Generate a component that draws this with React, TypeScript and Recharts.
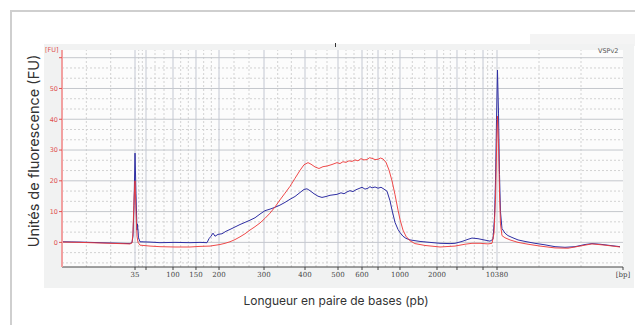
import { LineChart, Line, XAxis, YAxis, ReferenceLine } from 'recharts';

// migration time (s) of each ladder peak and its size label
const ladderTimes = [52.17, 54.0, 58.5, 62.33, 66.17, 73.67, 80.5, 86.0, 90.0, 92.67, 96.33, 102.5, 105.83, 110.17, 112.5];
const ladderLabels = ['35', '', '100', '150', '200', '300', '400', '500', '600', '', '1000', '2000', '', '', '10380'];

const X_MIN = 40;
const X_MAX = 133.5;
const Y_MIN = -8;
const Y_MAX = 62.5;
const fuTicks = [0, 10, 20, 30, 40, 50, 60];

// sample 1 (blue)
const blueTime = [
  40.0, 43.0, 46.33, 49.67, 51.33, 51.67, 51.83, 52.0, 52.17, 52.33, 52.5, 52.58, 52.75, 53.0, 54.67, 56.33, 58.83, 61.33, 63.0,
  64.17, 64.5, 64.83, 65.17, 65.5, 66.0, 66.67, 67.33, 68.0, 68.83, 69.67, 70.5, 71.33, 72.17, 73.0, 73.83, 74.67, 75.5, 76.33,
  77.17, 78.0, 78.83, 79.67, 80.33, 80.83, 81.33, 82.0, 82.67, 83.33, 84.0, 84.67, 85.83, 86.5, 87.0, 87.5, 88.0, 88.5, 89.0,
  89.5, 90.0, 90.5, 91.0, 91.33, 91.67, 92.17, 92.67, 93.17, 93.67, 94.17, 94.67, 95.0, 95.5, 96.0, 96.33, 96.83, 97.33, 98.0,
  99.67, 101.33, 103.0, 104.67, 105.5, 106.67, 107.67, 108.33, 109.33, 110.33, 111.33, 111.83, 112.08, 112.25, 112.42, 112.58,
  112.75, 112.92, 113.08, 113.33, 113.83, 114.33, 115.0, 116.0, 117.17, 118.83, 120.5, 122.17, 123.83, 125.5, 127.17, 128.33,
  129.67, 131.33, 133.0,
];
const blueFU = [
  0.2, 0.1, -0.1, -0.3, -0.4, 0.0, 2, 12, 29, 16, 4, 6, 1.5, 0.2, 0.1, -0.1, 0, -0.1, 0,
  -0.1, 1.2, 2.0, 3.0, 2.0, 2.6, 2.8, 3.6, 4.2, 5.0, 5.8, 6.5, 7.2, 8.0, 9.2, 10.3, 10.8, 11.4, 12.1,
  13.0, 14.0, 14.9, 16.2, 17.2, 17.4, 16.8, 15.8, 15.0, 14.6, 14.9, 15.3, 15.6, 16.1, 15.8, 16.4, 16.8, 16.5, 17.1,
  17.5, 17.9, 17.3, 17.6, 18.1, 17.7, 18.0, 17.6, 17.9, 17.3, 16.6, 13.5, 10.5, 6.5, 4.2, 3.2, 2.0, 1.3, 0.8,
  0.3, 0.0, -0.3, -0.4, -0.3, 0.3, 1.0, 1.4, 1.2, 0.8, 0.4, 1.0, 8, 20, 40, 56,
  42, 22, 10, 4.5, 3.0, 2.2, 1.6, 0.8, 0.3, -0.3, -0.8, -1.4, -1.6, -1.4, -0.7, -0.4,
  -0.6, -1.0, -1.4,
];

// sample 2 (red)
const redTime = [
  40.0, 43.0, 46.33, 49.67, 51.33, 51.67, 51.83, 52.0, 52.17, 52.33, 52.5, 52.67, 53.0, 54.67, 56.33, 58.83, 61.33, 63.0, 64.67,
  66.33, 67.17, 68.0, 68.83, 69.67, 70.5, 71.33, 72.17, 73.0, 73.83, 74.67, 75.5, 76.33, 77.17, 78.0, 78.83, 79.67, 80.33, 81.0,
  81.5, 82.17, 82.83, 83.5, 84.17, 85.0, 85.83, 86.33, 86.83, 87.33, 87.83, 88.33, 88.83, 89.33, 89.83, 90.33, 90.83, 91.25,
  91.67, 92.17, 92.67, 93.08, 93.5, 94.0, 94.5, 95.0, 95.5, 96.0, 96.33, 96.83, 97.33, 98.0, 98.83, 100.5, 103.0, 105.5, 107.17,
  108.33, 109.67, 111.0, 111.67, 112.0, 112.25, 112.42, 112.58, 112.75, 112.92, 113.08, 113.33, 113.83, 114.67, 116.0, 117.67,
  119.67, 122.17, 124.33, 126.33, 128.33, 130.5, 133.0,
];
const redFU = [
  0.1, 0, -0.2, -0.4, -0.5, -0.2, 3, 14, 20, 10, 2, 0, -0.9, -1.2, -1.4, -1.5, -1.5, -1.3, -1.2,
  -0.7, -0.3, 0.2, 0.9, 1.8, 2.8, 4.0, 5.1, 6.3, 7.8, 9.5, 11.5, 13.8, 16.0, 18.2, 20.8, 23.4, 25.2, 25.9,
  25.4, 24.5, 24.0, 24.6, 24.8, 25.3, 25.9, 25.6, 26.2, 26.0, 26.5, 26.3, 26.8, 26.5, 27.2, 26.8, 26.9, 27.5,
  27.3, 26.9, 27.0, 27.4, 27.1, 26.0, 23.5, 20.0, 15.5, 10.5, 7.5, 4.0, 2.0, 0.5, -0.4, -1.0, -1.5, -1.2, -0.6,
  -0.3, -0.3, -0.5, -0.3, 3, 14, 30, 41, 32, 16, 6, 2.2, 1.5, 0.8, 0.0, -0.6,
  -1.2, -1.8, -1.9, -1.2, -0.5, -0.9, -1.5,
];

const blueData = blueTime.map((t, i) => ({ t, fu: blueFU[i] }));
const redData = redTime.map((t, i) => ({ t, fu: redFU[i] }));

// solid grid at ladder peaks, dotted grid at thirds in between
const xBounds = [X_MIN, ...ladderTimes, X_MAX];
const xDotted = xBounds.slice(1).flatMap((b, i) => {
  const a = xBounds[i];
  return [a + (b - a) / 3, a + (2 * (b - a)) / 3];
});
const yDotted = [-20, ...fuTicks].slice(1).flatMap((v) => [v - 20 / 3, v - 10 / 3]).filter((v) => v > Y_MIN);
const xTicks = [...ladderTimes, X_MAX];

const fmtX = (v: number) => {
  if (v === X_MAX) return '[bp]';
  const i = ladderTimes.indexOf(v);
  return i >= 0 ? ladderLabels[i] : '';
};

const abs = (style: React.CSSProperties): React.CSSProperties => ({ position: 'absolute', ...style });

export default function App() {
  return (
    <div style={abs({ left: 0, top: 0, width: 635, height: 325, background: '#fff', overflow: 'hidden', fontFamily: 'Inter, sans-serif' })}>
      <div style={abs({ left: 10, top: 10, width: 640, height: 330, borderTop: '2px solid #cfcfcf', borderLeft: '2px solid #cfcfcf' })} />
      <div style={abs({ left: 530, top: 34, width: 105, height: 12, background: '#f4f4f4' })} />
      <div style={abs({ left: 44, top: 44, width: 590, height: 244, background: '#f1f2f2' })} />
      <div style={abs({ left: 62, top: 50, width: 561, height: 217, background: '#fcfcfc' })} />
      <div style={abs({ left: 335, top: 43, width: 1, height: 4, background: '#333' })} />
      <div style={abs({ left: 45, top: 46, fontSize: 6.5, color: '#e05050', fontFamily: 'DejaVu Sans' })}>[FU]</div>
      <div style={abs({ left: 598, top: 47, fontSize: 6.5, color: '#555', fontFamily: 'DejaVu Sans' })}>VSPv2</div>

      <div style={abs({ left: 0, top: 0 })}>
        <LineChart width={635} height={325} margin={{ top: 50, right: 12, bottom: 38, left: 0 }}>
          <XAxis
            dataKey="t"
            type="number"
            domain={[X_MIN, X_MAX]}
            allowDataOverflow
            ticks={xTicks}
            interval={0}
            tickFormatter={fmtX}
            height={20}
            tickSize={3}
            tickMargin={2}
            stroke="#444"
            tick={{ fontSize: 7, fill: '#444', fontFamily: 'DejaVu Serif' }}
          />
          <YAxis
            type="number"
            domain={[Y_MIN, Y_MAX]}
            allowDataOverflow
            ticks={fuTicks}
            interval={0}
            tickFormatter={(v: number) => (v === 60 ? '' : String(v))}
            width={62}
            tickSize={3}
            tickMargin={1}
            axisLine={{ stroke: '#f2a0a0', strokeWidth: 2 }}
            tickLine={{ stroke: '#e05050' }}
            tick={{ fontSize: 6.5, fill: '#e05050', fontFamily: 'DejaVu Sans' }}
          />
          {yDotted.map((v) => (
            <ReferenceLine key={`yd${v}`} y={v} stroke="#d2d2d2" strokeDasharray="2 2" />
          ))}
          {xDotted.map((v) => (
            <ReferenceLine key={`xd${v}`} x={v} stroke="#d2d2d2" strokeDasharray="2 2" />
          ))}
          {fuTicks.map((v) => (
            <ReferenceLine key={`ys${v}`} y={v} stroke="#c4c7cc" />
          ))}
          {ladderTimes.map((v) => (
            <ReferenceLine key={`xs${v}`} x={v} stroke="#c4c8d2" />
          ))}
          <Line data={blueData} dataKey="fu" type="linear" stroke="#2e2ea3" strokeWidth={1} dot={false} isAnimationActive={false} />
          <Line data={redData} dataKey="fu" type="linear" stroke="#ee3636" strokeWidth={1} strokeOpacity={0.9} dot={false} isAnimationActive={false} />
        </LineChart>
      </div>

      <div
        style={abs({
          left: 33,
          top: 151,
          transform: 'translate(-50%, -50%) rotate(-90deg)',
          whiteSpace: 'nowrap',
          fontSize: 14.5,
          color: '#333',
        })}
      >
        Unités de fluorescence (FU)
      </div>
      <div style={abs({ left: 336, top: 300, transform: 'translate(-50%, -50%)', whiteSpace: 'nowrap', fontSize: 12, color: '#333' })}>
        Longueur en paire de bases (pb)
      </div>
    </div>
  );
}
